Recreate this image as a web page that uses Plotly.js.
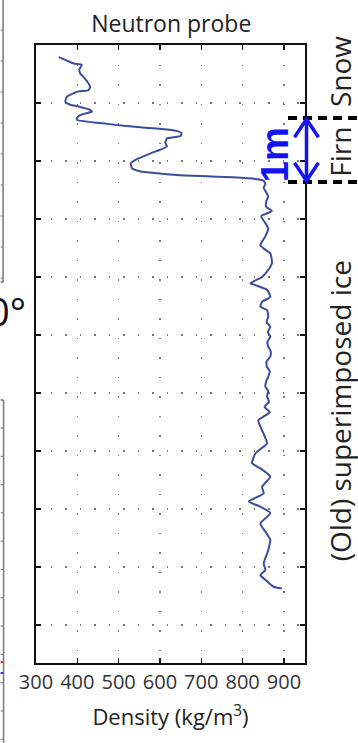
<!DOCTYPE html>
<html>
<head>
<meta charset="utf-8">
<script src="https://cdn.plot.ly/plotly-3.0.1.min.js"></script>
<style>
  html, body { margin: 0; padding: 0; background: #fff; }
  #chart { width: 358px; height: 743px; }
</style>
</head>
<body>
<div id="chart"></div>
<script>
// Neutron probe density profile (depth increases downward)
const depth = [
  0.21, 0.26, 0.32, 0.34, 0.42, 0.49, 0.55, 0.63, 0.72, 0.78,
  0.80, 0.85, 0.89, 0.98, 1.03, 1.06, 1.12, 1.15, 1.18, 1.21,
  1.26, 1.29, 1.36, 1.42, 1.46, 1.48, 1.52, 1.57, 1.59, 1.61,
  1.69, 1.75, 1.81, 1.86, 1.92, 1.98, 2.04, 2.13, 2.18, 2.21,
  2.24, 2.26, 2.28, 2.31, 2.34, 2.40, 2.46, 2.54, 2.61, 2.70,
  2.79, 2.86, 2.95, 3.07, 3.16, 3.30, 3.45, 3.53, 3.59, 3.76,
  3.88, 4.00, 4.11, 4.14, 4.22, 4.34, 4.43, 4.51, 4.57, 4.68,
  4.78, 4.86, 4.95, 5.03, 5.12, 5.20, 5.28, 5.37, 5.46, 5.55,
  5.63, 5.72, 5.80, 5.89, 5.97, 6.06, 6.15, 6.24, 6.33, 6.47,
  6.58, 6.72, 6.87, 7.04, 7.21, 7.30, 7.44, 7.62, 7.73, 7.87,
  7.96, 8.07, 8.25, 8.39, 8.53, 8.71, 8.94, 9.05, 9.14, 9.22,
  9.34, 9.37
];
const density = [
  355, 372, 391, 411, 405, 407, 415, 424, 431, 427,
  403, 385, 375, 371, 383, 403, 431, 435, 420, 407,
  399, 399, 472, 553, 622, 640, 652, 650, 634, 617,
  613, 617, 599, 580, 560, 541, 529, 533, 553, 594,
  640, 700, 776, 832, 851, 855, 851, 857, 862, 857,
  857, 871, 845, 855, 862, 855, 843, 855, 867, 871,
  862, 847, 819, 831, 859, 867, 847, 843, 859, 862,
  858, 867, 861, 867, 860, 862, 868, 867, 858, 859,
  866, 862, 857, 855, 862, 859, 864, 853, 866, 838,
  843, 852, 859, 831, 823, 843, 867, 847, 851, 815,
  843, 867, 843, 855, 867, 862, 851, 855, 843, 855,
  875, 895
];

// Axis ticks
const densityTicks = [300, 400, 500, 600, 700, 800, 900];
const depthTicks = [0, 1, 2, 3, 4, 5, 6, 7, 8, 9, 10];

// Layer boundaries (depth) and layer names
const snowFirnDepth = 1.26;
const firnIceDepth = 2.36;
const layerLabels = ['Snow', 'Firn', '(Old) superimposed ice'];
const layerLabelDepth = [0.45, 1.84, 6.3];
const layerLabelSize = [28, 28, 28];

const mainFont = '"Open Sans", "Noto Sans", sans-serif';

const trace = {
  x: density,
  y: depth,
  type: 'scatter',
  mode: 'lines',
  line: { color: '#3b4d9e', width: 2, shape: 'spline', smoothing: 0.5 },
  hoverinfo: 'skip'
};

// Paper-x for an absolute pixel column (plot spans 35.5..305 px)
const px = v => (v - 35.5) / 269.5;
// Paper-y for an absolute pixel row (plot spans 45..663 px)
const ypx = v => (663 - v) / 618;

const shapes = [];
// Layer boundary markers to the right of the axes
[snowFirnDepth, firnIceDepth].forEach(d => {
  shapes.push({
    type: 'line', xref: 'paper', yref: 'y',
    x0: px(288), x1: px(358), y0: d, y1: d,
    line: { color: '#000', width: 4, dash: '9px,6px' }
  });
});
// Double-headed "1m" scale arrow
const ax = px(306.5), hw = 12 / 269.5, hh = 0.33;
shapes.push({
  type: 'line', xref: 'paper', yref: 'y',
  x0: ax, x1: ax, y0: snowFirnDepth + 0.03, y1: firnIceDepth - 0.03,
  line: { color: '#1414f0', width: 3.5 }
});
shapes.push({
  type: 'path', xref: 'paper', yref: 'y',
  path: `M ${ax - hw} ${snowFirnDepth + hh} L ${ax} ${snowFirnDepth + 0.02} L ${ax + hw} ${snowFirnDepth + hh}`,
  line: { color: '#1414f0', width: 3.5 }
});
shapes.push({
  type: 'path', xref: 'paper', yref: 'y',
  path: `M ${ax - hw} ${firnIceDepth - hh} L ${ax} ${firnIceDepth - 0.02} L ${ax + hw} ${firnIceDepth - hh}`,
  line: { color: '#1414f0', width: 3.5 }
});

// Edges of the neighbouring panel at the far left
const edge = { color: '#777', width: 1.5 };
shapes.push({ type: 'line', xref: 'paper', yref: 'paper', x0: px(2.5), x1: px(2.5), y0: ypx(0), y1: ypx(282), line: edge });
shapes.push({ type: 'line', xref: 'paper', yref: 'paper', x0: px(0), x1: px(3), y0: ypx(282), y1: ypx(282), line: edge });
shapes.push({ type: 'line', xref: 'paper', yref: 'paper', x0: px(3), x1: px(3), y0: ypx(400), y1: ypx(743), line: edge });
shapes.push({ type: 'line', xref: 'paper', yref: 'paper', x0: px(0), x1: px(3), y0: ypx(400), y1: ypx(400), line: edge });
for (let t = 30; t < 282; t += 31) {
  shapes.push({ type: 'line', xref: 'paper', yref: 'paper', x0: px(0), x1: px(2.5), y0: ypx(t), y1: ypx(t), line: { color: '#777', width: 1 } });
}
for (let t = 428; t < 743; t += 28.3) {
  shapes.push({ type: 'line', xref: 'paper', yref: 'paper', x0: px(0), x1: px(3), y0: ypx(t), y1: ypx(t), line: { color: '#777', width: 1 } });
}
shapes.push({ type: 'line', xref: 'paper', yref: 'paper', x0: px(0), x1: px(3), y0: ypx(662), y1: ypx(662), line: { color: '#e33', width: 2 } });
shapes.push({ type: 'line', xref: 'paper', yref: 'paper', x0: px(0), x1: px(3), y0: ypx(673), y1: ypx(673), line: { color: '#33e', width: 2 } });

const annotations = [
  {
    text: '1m', xref: 'paper', yref: 'y', x: px(275), y: 1.9,
    xanchor: 'center', yanchor: 'middle',
    textangle: -90, showarrow: false,
    font: { family: 'Liberation Sans, Arial, sans-serif', size: 38, color: '#1414f0', weight: 'bold' }
  },
  {
    text: '0°', xref: 'paper', yref: 'paper', x: px(27), y: ypx(311),
    xanchor: 'right', yanchor: 'middle', showarrow: false,
    font: { family: mainFont, size: 38, color: '#111' }
  }
];
layerLabels.forEach((t, i) => {
  annotations.push({
    text: t, xref: 'paper', yref: 'y', x: px(340), y: layerLabelDepth[i],
    xanchor: 'center', yanchor: 'middle',
    textangle: -90, showarrow: false,
    font: { family: mainFont, size: layerLabelSize[i], color: '#222' }
  });
});

const layout = {
  width: 358, height: 743,
  margin: { l: 35.5, r: 53, t: 45, b: 80 },
  paper_bgcolor: '#fff', plot_bgcolor: '#fff',
  showlegend: false,
  title: {
    text: 'Neutron probe', xref: 'paper', x: px(171), xanchor: 'center',
    yref: 'container', y: 1 - 24 / 743, yanchor: 'middle',
    font: { family: mainFont, size: 23, color: '#222' }
  },
  xaxis: {
    range: [300, 951], tickvals: densityTicks, ticktext: densityTicks.map(String),
    tickangle: 0,
    ticks: 'inside', ticklen: 5, tickwidth: 1.5, tickcolor: '#111',
    showline: true, linecolor: '#111', linewidth: 2, mirror: 'ticks',
    showgrid: true, gridcolor: '#777', gridwidth: 1.5, griddash: '1.5px,18px',
    zeroline: false,
    tickfont: { family: mainFont, size: 20, color: '#333' },
    title: { text: 'Density (kg/m<sup>3</sup>)', standoff: 16, font: { family: mainFont, size: 22, color: '#222' } }
  },
  yaxis: {
    range: [10.655, 0], tickvals: depthTicks, showticklabels: false,
    ticks: 'inside', ticklen: 5, tickwidth: 1.5, tickcolor: '#111',
    showline: true, linecolor: '#111', linewidth: 2, mirror: 'ticks',
    showgrid: true, gridcolor: '#777', gridwidth: 1.5, griddash: '1.5px,13px',
    zeroline: false
  },
  shapes: shapes,
  annotations: annotations
};

Plotly.newPlot('chart', [trace], layout, { staticPlot: true, displayModeBar: false });
</script>
</body>
</html>
